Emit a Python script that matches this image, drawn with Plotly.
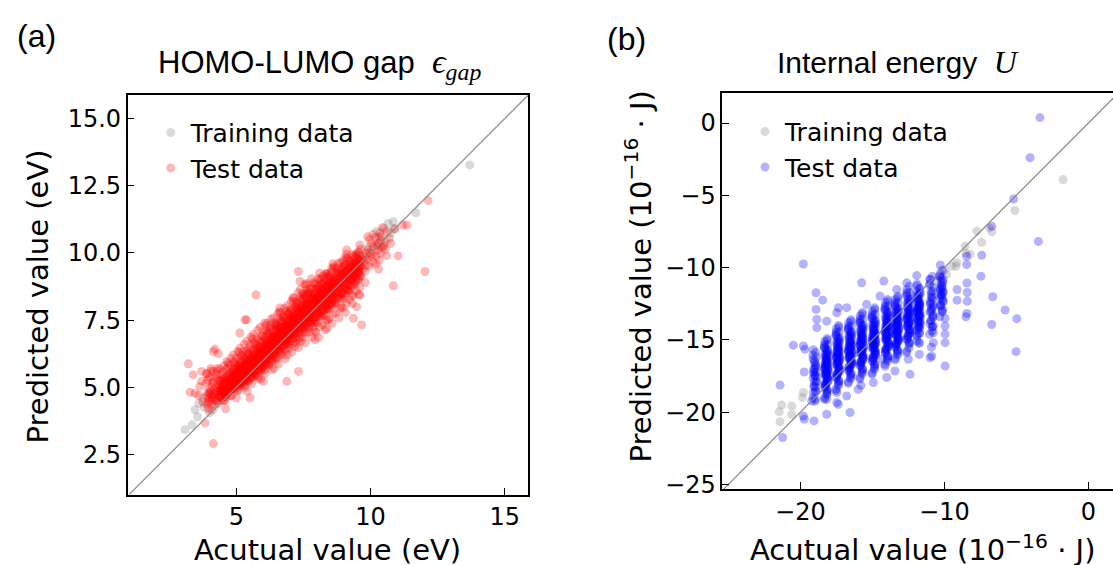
import plotly.graph_objects as go

# ---------------- Panel (a): HOMO-LUMO gap (eV) ----------------
train_a_actual = [
    13.70, 11.69, 10.85, 10.66, 10.50, 10.75, 10.30, 10.55, 10.20, 10.90,
    10.23, 10.47, 3.09, 3.46, 3.60, 3.80, 3.55, 3.35, 4.00, 3.75,
    4.20, 6.50, 7.56, 6.25, 7.62, 9.60, 9.90, 5.00, 8.50, 4.50,
]
train_a_pred = [
    13.28, 11.50, 11.17, 11.10, 10.90, 10.75, 10.60, 10.45, 10.30, 10.90,
    10.80, 10.24, 3.42, 4.16, 4.40, 4.25, 3.90, 3.60, 4.05, 4.60,
    4.30, 7.32, 8.38, 7.32, 8.44, 9.90, 10.20, 5.30, 8.70, 4.80,
]

test_a_actual = [
    3.90, 4.04, 3.96, 4.09, 4.00, 3.93, 4.06, 3.98, 4.11, 3.88,
    4.28, 4.16, 4.32, 4.22, 4.37, 4.19, 4.25, 4.33, 4.14, 4.30,
    4.45, 4.60, 4.38, 4.52, 4.56, 4.49, 4.42, 4.61, 4.54, 4.47,
    4.53, 4.41, 4.57, 4.47, 4.62, 4.44, 4.50, 4.58, 4.39, 4.55,
    4.65, 4.79, 4.71, 4.84, 4.75, 4.68, 4.81, 4.73, 4.86, 4.63,
    4.78, 4.66, 4.82, 4.72, 4.87, 4.69, 4.75, 4.83, 4.64, 4.80,
    4.95, 5.10, 4.88, 5.02, 5.06, 4.99, 4.92, 5.11, 5.04, 4.97,
    4.90, 5.04, 4.96, 5.09, 5.00, 4.93, 5.06, 4.98, 5.11, 4.88,
    5.03, 4.91, 5.07, 4.97, 5.12, 4.94, 5.00, 5.08, 4.89, 5.05,
    5.28, 5.16, 5.32, 5.22, 5.37, 5.19, 5.25, 5.33, 5.14, 5.30,
    5.20, 5.35, 5.13, 5.27, 5.31, 5.24, 5.17, 5.36, 5.29, 5.22,
    5.15, 5.29, 5.21, 5.34, 5.25, 5.18, 5.31, 5.23, 5.36, 5.13,
    5.40, 5.54, 5.46, 5.59, 5.50, 5.43, 5.56, 5.48, 5.61, 5.38,
    5.53, 5.41, 5.57, 5.47, 5.62, 5.44, 5.50, 5.58, 5.39, 5.55,
    5.45, 5.60, 5.38, 5.52, 5.56, 5.49, 5.42, 5.61, 5.54, 5.47,
    5.70, 5.85, 5.63, 5.77, 5.81, 5.74, 5.67, 5.86, 5.79, 5.72,
    5.65, 5.79, 5.71, 5.84, 5.75, 5.68, 5.81, 5.73, 5.86, 5.63,
    5.78, 5.66, 5.82, 5.72, 5.87, 5.69, 5.75, 5.83, 5.64, 5.80,
    6.03, 5.91, 6.07, 5.97, 6.12, 5.94, 6.00, 6.08, 5.89, 6.05,
    5.95, 6.10, 5.88, 6.02, 6.06, 5.99, 5.92, 6.11, 6.04, 5.97,
    5.90, 6.04, 5.96, 6.09, 6.00, 5.93, 6.06, 5.98, 6.11, 5.88,
    6.15, 6.29, 6.21, 6.34, 6.25, 6.18, 6.31, 6.23, 6.36, 6.13,
    6.28, 6.16, 6.32, 6.22, 6.37, 6.19, 6.25, 6.33, 6.14, 6.30,
    6.20, 6.35, 6.13, 6.27, 6.31, 6.24, 6.17, 6.36, 6.29, 6.22,
    6.45, 6.60, 6.38, 6.52, 6.56, 6.49, 6.42, 6.61, 6.54, 6.47,
    6.40, 6.54, 6.46, 6.59, 6.50, 6.43, 6.56, 6.48, 6.61, 6.38,
    6.53, 6.41, 6.57, 6.47, 6.62, 6.44, 6.50, 6.58, 6.39, 6.55,
    6.78, 6.66, 6.82, 6.72, 6.87, 6.69, 6.75, 6.83, 6.64, 6.80,
    6.70, 6.85, 6.63, 6.77, 6.81, 6.74, 6.67, 6.86, 6.79, 6.72,
    6.65, 6.79, 6.71, 6.84, 6.75, 6.68, 6.81, 6.73, 6.86, 6.63,
    6.90, 7.04, 6.96, 7.09, 7.00, 6.93, 7.06, 6.98, 7.11, 6.88,
    7.03, 6.91, 7.07, 6.97, 7.12, 6.94, 7.00, 7.08, 6.89, 7.05,
    6.95, 7.10, 6.88, 7.02, 7.06, 6.99, 6.92, 7.11, 7.04, 6.97,
    7.20, 7.35, 7.13, 7.27, 7.31, 7.24, 7.17, 7.36, 7.29, 7.22,
    7.15, 7.29, 7.21, 7.34, 7.25, 7.18, 7.31, 7.23, 7.36, 7.13,
    7.28, 7.16, 7.32, 7.22, 7.37, 7.19, 7.25, 7.33, 7.14, 7.30,
    7.53, 7.41, 7.57, 7.47, 7.62, 7.44, 7.50, 7.58, 7.39, 7.55,
    7.45, 7.60, 7.38, 7.52, 7.56, 7.49, 7.42, 7.61, 7.54, 7.47,
    7.40, 7.54, 7.46, 7.59, 7.50, 7.43, 7.56, 7.48, 7.61, 7.38,
    7.65, 7.79, 7.71, 7.84, 7.75, 7.68, 7.81, 7.73, 7.86, 7.63,
    7.78, 7.66, 7.82, 7.72, 7.87, 7.69, 7.75, 7.83, 7.64, 7.80,
    7.70, 7.85, 7.63, 7.77, 7.81, 7.74, 7.67, 7.86, 7.79, 7.72,
    7.95, 8.10, 7.88, 8.02, 8.06, 7.99, 7.92, 8.11, 8.04, 7.97,
    7.90, 8.04, 7.96, 8.09, 8.00, 7.93, 8.06, 7.98, 8.11, 7.88,
    8.03, 7.91, 8.07, 7.97, 8.12, 7.94, 8.00, 8.08, 7.89, 8.05,
    8.28, 8.16, 8.32, 8.22, 8.37, 8.19, 8.25, 8.33, 8.14, 8.30,
    8.20, 8.35, 8.13, 8.27, 8.31, 8.24, 8.17, 8.36, 8.29, 8.22,
    8.15, 8.29, 8.21, 8.34, 8.25, 8.18, 8.31, 8.23, 8.36, 8.13,
    8.40, 8.54, 8.46, 8.59, 8.50, 8.43, 8.56, 8.48, 8.61, 8.38,
    8.53, 8.41, 8.57, 8.47, 8.62, 8.44, 8.50, 8.58, 8.39, 8.55,
    8.45, 8.60, 8.38, 8.52, 8.56, 8.49, 8.42, 8.61, 8.54, 8.47,
    8.70, 8.85, 8.63, 8.77, 8.81, 8.74, 8.67, 8.86, 8.79, 8.72,
    8.65, 8.79, 8.71, 8.84, 8.75, 8.68, 8.81, 8.73, 8.86, 8.63,
    9.03, 8.91, 9.07, 8.97, 9.12, 8.94, 9.00, 9.08, 8.89, 9.05,
    8.95, 9.10, 8.88, 9.02, 9.06, 8.99, 8.92, 9.11, 9.04, 8.97,
    9.15, 9.29, 9.21, 9.34, 9.25, 9.18, 9.31, 9.23, 9.36, 9.13,
    9.20, 9.35, 9.13, 9.27, 9.31, 9.24, 9.17, 9.36, 9.29, 9.22,
    9.53, 9.41, 9.57, 9.47, 9.62, 9.44, 9.50, 9.58, 9.39, 9.55,
    9.45, 9.60, 9.38, 9.52, 9.56, 9.49, 9.42, 9.61, 9.54, 9.47,
    9.65, 9.79, 9.71, 9.84, 9.75, 9.68, 9.81, 9.73, 9.86, 9.63,
    9.95, 10.10, 9.88, 10.02, 10.06, 9.99, 9.92, 10.11, 10.04, 9.97,
    10.33, 10.21, 10.37, 10.27, 10.42, 10.24, 10.30, 10.38, 10.19, 10.35,
    3.21, 3.39, 3.71, 3.46, 3.27, 3.64, 3.71, 3.83, 4.14, 4.20,
    4.33, 4.14, 5.32, 5.38, 5.73, 5.13, 6.62, 7.31, 7.37, 9.11,
    11.03, 10.85, 9.48, 9.36, 9.67, 9.60, 8.37, 7.93, 7.18, 7.31,
    6.88, 6.00, 5.51, 12.15, 11.20, 11.35, 12.03, 10.40, 10.60, 10.50,
    10.70, 10.20, 10.60, 10.30, 10.90, 10.45, 10.10, 3.90, 4.05, 3.95,
    3.75, 4.10, 3.60, 4.60, 5.00, 5.40, 5.90, 6.40, 6.90, 7.40,
    7.90, 8.40, 8.90, 9.30, 9.80, 4.30, 4.70, 5.10, 5.60, 6.10,
    6.60, 7.10, 7.60, 8.10, 8.60, 9.10, 9.60, 9.90, 10.55, 10.75,
    4.07, 3.96, 4.10, 3.91, 4.02, 4.12, 3.94, 4.00, 3.89, 4.05,
    4.32, 4.21, 4.35, 4.16, 4.27, 4.37, 4.19, 4.25, 4.14, 4.30,
    4.57, 4.46, 4.60, 4.41, 4.52, 4.62, 4.44, 4.50, 4.39, 4.55,
    4.44, 4.59, 4.49, 4.56, 4.40, 4.53, 4.61, 4.43, 4.58, 4.47,
    4.82, 4.71, 4.85, 4.66, 4.77, 4.87, 4.69, 4.75, 4.64, 4.80,
    4.69, 4.84, 4.74, 4.81, 4.65, 4.78, 4.86, 4.68, 4.83, 4.72,
    5.07, 4.96, 5.10, 4.91, 5.02, 5.12, 4.94, 5.00, 4.89, 5.05,
    4.94, 5.09, 4.99, 5.06, 4.90, 5.03, 5.11, 4.93, 5.08, 4.97,
    5.32, 5.21, 5.35, 5.16, 5.27, 5.37, 5.19, 5.25, 5.14, 5.30,
    5.19, 5.34, 5.24, 5.31, 5.15, 5.28, 5.36, 5.18, 5.33, 5.22,
    5.57, 5.46, 5.60, 5.41, 5.52, 5.62, 5.44, 5.50, 5.39, 5.55,
    5.44, 5.59, 5.49, 5.56, 5.40, 5.53, 5.61, 5.43, 5.58, 5.47,
    5.82, 5.71, 5.85, 5.66, 5.77, 5.87, 5.69, 5.75, 5.64, 5.80,
    5.69, 5.84, 5.74, 5.81, 5.65, 5.78, 5.86, 5.68, 5.83, 5.72,
    6.07, 5.96, 6.10, 5.91, 6.02, 6.12, 5.94, 6.00, 5.89, 6.05,
    5.94, 6.09, 5.99, 6.06, 5.90, 6.03, 6.11, 5.93, 6.08, 5.97,
    6.32, 6.21, 6.35, 6.16, 6.27, 6.37, 6.19, 6.25, 6.14, 6.30,
    6.19, 6.34, 6.24, 6.31, 6.15, 6.28, 6.36, 6.18, 6.33, 6.22,
    6.57, 6.46, 6.60, 6.41, 6.52, 6.62, 6.44, 6.50, 6.39, 6.55,
    6.44, 6.59, 6.49, 6.56, 6.40, 6.53, 6.61, 6.43, 6.58, 6.47,
    6.82, 6.71, 6.85, 6.66, 6.77, 6.87, 6.69, 6.75, 6.64, 6.80,
    6.69, 6.84, 6.74, 6.81, 6.65, 6.78, 6.86, 6.68, 6.83, 6.72,
    7.07, 6.96, 7.10, 6.91, 7.02, 7.12, 6.94, 7.00, 6.89, 7.05,
    6.94, 7.09, 6.99, 7.06, 6.90, 7.03, 7.11, 6.93, 7.08, 6.97,
    7.32, 7.21, 7.35, 7.16, 7.27, 7.37, 7.19, 7.25, 7.14, 7.30,
    7.19, 7.34, 7.24, 7.31, 7.15, 7.28, 7.36, 7.18, 7.33, 7.22,
    7.57, 7.46, 7.60, 7.41, 7.52, 7.62, 7.44, 7.50, 7.39, 7.55,
    7.44, 7.59, 7.49, 7.56, 7.40, 7.53, 7.61, 7.43, 7.58, 7.47,
    7.82, 7.71, 7.85, 7.66, 7.77, 7.87, 7.69, 7.75, 7.64, 7.80,
    7.69, 7.84, 7.74, 7.81, 7.65, 7.78, 7.86, 7.68, 7.83, 7.72,
    8.07, 7.96, 8.10, 7.91, 8.02, 8.12, 7.94, 8.00, 7.89, 8.05,
    7.94, 8.09, 7.99, 8.06, 7.90, 8.03, 8.11, 7.93, 8.08, 7.97,
    8.32, 8.21, 8.35, 8.16, 8.27, 8.37, 8.19, 8.25, 8.14, 8.30,
    8.19, 8.34, 8.24, 8.31, 8.15, 8.28, 8.36, 8.18, 8.33, 8.22,
    8.57, 8.46, 8.60, 8.41, 8.52, 8.62, 8.44, 8.50, 8.39, 8.55,
    8.44, 8.59, 8.49, 8.56, 8.40, 8.53, 8.61, 8.43, 8.58, 8.47,
    8.82, 8.71, 8.85, 8.66, 8.77, 8.87, 8.69, 8.75, 8.64, 8.80,
    8.69, 8.84, 8.74, 8.81, 8.65, 8.78, 8.86, 8.68, 8.83, 8.72,
    9.07, 8.96, 9.10, 8.91, 9.02, 9.12, 8.94, 9.00, 8.89, 9.05,
    8.94, 9.09, 8.99, 9.06, 8.90, 9.03, 9.11, 8.93, 9.08, 8.97,
    9.32, 9.21, 9.35, 9.16, 9.27, 9.37, 9.19, 9.25, 9.14, 9.30,
    9.19, 9.34, 9.24, 9.31, 9.15, 9.28, 9.36, 9.18, 9.33, 9.22,
    9.57, 9.46, 9.60, 9.41, 9.52, 9.62, 9.44, 9.50, 9.39, 9.55,
    9.44, 9.59, 9.49, 9.56, 9.40, 9.53, 9.61, 9.43, 9.58, 9.47,
]
test_a_pred = [
    4.37, 4.50, 4.59, 4.67, 4.74, 4.80, 4.87, 4.95, 5.04, 5.17,
    4.49, 4.60, 4.69, 4.78, 4.85, 4.90, 4.99, 5.08, 5.19, 5.30,
    4.50, 4.63, 4.72, 4.81, 4.93, 5.00, 5.06, 5.11, 5.20, 5.31,
    4.52, 4.66, 4.75, 4.84, 4.90, 4.97, 5.04, 5.13, 5.22, 5.36,
    4.80, 4.92, 5.01, 5.11, 5.18, 5.24, 5.32, 5.42, 5.54, 5.66,
    4.70, 4.84, 4.94, 5.04, 5.16, 5.23, 5.30, 5.35, 5.44, 5.56,
    4.93, 5.08, 5.18, 5.28, 5.35, 5.43, 5.50, 5.60, 5.70, 5.85,
    5.00, 5.13, 5.23, 5.33, 5.40, 5.46, 5.55, 5.65, 5.78, 5.90,
    4.90, 5.05, 5.15, 5.25, 5.38, 5.45, 5.53, 5.58, 5.68, 5.80,
    5.08, 5.24, 5.35, 5.46, 5.55, 5.63, 5.71, 5.82, 5.93, 6.10,
    5.16, 5.30, 5.41, 5.52, 5.60, 5.67, 5.77, 5.88, 6.01, 6.15,
    5.05, 5.22, 5.33, 5.44, 5.57, 5.66, 5.74, 5.79, 5.90, 6.04,
    5.23, 5.41, 5.53, 5.65, 5.74, 5.83, 5.92, 6.04, 6.16, 6.34,
    5.32, 5.47, 5.59, 5.71, 5.80, 5.87, 5.98, 6.10, 6.25, 6.40,
    5.20, 5.38, 5.50, 5.62, 5.77, 5.86, 5.95, 6.01, 6.13, 6.28,
    5.44, 5.63, 5.75, 5.88, 5.97, 6.06, 6.16, 6.28, 6.40, 6.59,
    5.53, 5.69, 5.81, 5.94, 6.03, 6.10, 6.22, 6.34, 6.50, 6.65,
    5.41, 5.60, 5.72, 5.84, 6.00, 6.09, 6.19, 6.25, 6.37, 6.53,
    5.63, 5.83, 5.96, 6.09, 6.19, 6.28, 6.38, 6.51, 6.64, 6.84,
    5.73, 5.89, 6.02, 6.15, 6.25, 6.33, 6.45, 6.58, 6.74, 6.90,
    5.60, 5.80, 5.93, 6.06, 6.22, 6.32, 6.41, 6.48, 6.61, 6.77,
    5.88, 6.08, 6.21, 6.34, 6.44, 6.53, 6.63, 6.76, 6.89, 7.09,
    5.98, 6.14, 6.27, 6.40, 6.50, 6.58, 6.70, 6.83, 6.99, 7.15,
    5.85, 6.05, 6.18, 6.31, 6.47, 6.57, 6.66, 6.73, 6.86, 7.02,
    6.13, 6.33, 6.46, 6.59, 6.69, 6.78, 6.88, 7.01, 7.14, 7.34,
    6.23, 6.39, 6.52, 6.65, 6.75, 6.83, 6.95, 7.08, 7.24, 7.40,
    6.10, 6.30, 6.43, 6.56, 6.72, 6.82, 6.91, 6.98, 7.11, 7.27,
    6.38, 6.58, 6.71, 6.84, 6.94, 7.03, 7.13, 7.26, 7.39, 7.59,
    6.48, 6.64, 6.77, 6.90, 7.00, 7.08, 7.20, 7.33, 7.49, 7.65,
    6.35, 6.55, 6.68, 6.81, 6.97, 7.07, 7.16, 7.23, 7.36, 7.52,
    6.63, 6.83, 6.96, 7.09, 7.19, 7.28, 7.38, 7.51, 7.64, 7.84,
    6.73, 6.89, 7.02, 7.15, 7.25, 7.33, 7.45, 7.58, 7.74, 7.90,
    6.60, 6.80, 6.93, 7.06, 7.22, 7.32, 7.41, 7.48, 7.61, 7.77,
    6.84, 7.05, 7.19, 7.33, 7.43, 7.54, 7.64, 7.78, 7.92, 8.13,
    6.94, 7.12, 7.26, 7.40, 7.50, 7.58, 7.71, 7.85, 8.03, 8.20,
    6.80, 7.01, 7.15, 7.29, 7.47, 7.57, 7.68, 7.75, 7.89, 8.06,
    7.04, 7.26, 7.41, 7.56, 7.68, 7.79, 7.90, 8.05, 8.20, 8.43,
    7.15, 7.34, 7.49, 7.64, 7.75, 7.84, 7.98, 8.13, 8.31, 8.50,
    7.00, 7.23, 7.38, 7.53, 7.71, 7.83, 7.94, 8.01, 8.16, 8.35,
    7.24, 7.46, 7.61, 7.76, 7.88, 7.99, 8.10, 8.25, 8.40, 8.63,
    7.35, 7.54, 7.69, 7.84, 7.95, 8.04, 8.18, 8.33, 8.51, 8.70,
    7.20, 7.43, 7.58, 7.73, 7.91, 8.03, 8.14, 8.21, 8.36, 8.55,
    7.44, 7.66, 7.81, 7.96, 8.08, 8.19, 8.30, 8.45, 8.60, 8.83,
    7.55, 7.74, 7.89, 8.04, 8.15, 8.24, 8.38, 8.53, 8.71, 8.90,
    7.40, 7.63, 7.78, 7.93, 8.11, 8.23, 8.34, 8.41, 8.56, 8.75,
    7.67, 7.89, 8.04, 8.19, 8.31, 8.42, 8.53, 8.68, 8.83, 9.06,
    7.78, 7.97, 8.12, 8.27, 8.38, 8.47, 8.61, 8.76, 8.94, 9.13,
    7.63, 7.86, 8.01, 8.16, 8.34, 8.46, 8.57, 8.64, 8.79, 8.98,
    7.94, 8.15, 8.29, 8.43, 8.53, 8.64, 8.74, 8.88, 9.02, 9.23,
    8.04, 8.22, 8.36, 8.50, 8.60, 8.68, 8.81, 8.95, 9.13, 9.30,
    7.90, 8.11, 8.25, 8.39, 8.57, 8.67, 8.78, 8.85, 8.99, 9.16,
    8.14, 8.35, 8.49, 8.63, 8.73, 8.84, 8.94, 9.08, 9.22, 9.43,
    8.24, 8.42, 8.56, 8.70, 8.80, 8.88, 9.01, 9.15, 9.33, 9.50,
    8.30, 8.51, 8.65, 8.79, 8.97, 9.07, 9.18, 9.25, 9.39, 9.56,
    8.44, 8.62, 8.76, 8.90, 9.00, 9.08, 9.21, 9.35, 9.53, 9.70,
    8.63, 8.82, 8.95, 9.07, 9.17, 9.26, 9.36, 9.48, 9.61, 9.80,
    8.60, 8.79, 8.92, 9.04, 9.20, 9.29, 9.39, 9.45, 9.58, 9.73,
    9.01, 9.15, 9.26, 9.37, 9.45, 9.52, 9.62, 9.73, 9.86, 10.00,
    8.93, 9.09, 9.20, 9.31, 9.40, 9.48, 9.56, 9.67, 9.78, 9.95,
    9.15, 9.32, 9.43, 9.54, 9.67, 9.76, 9.84, 9.89, 10.00, 10.14,
    9.51, 9.65, 9.76, 9.87, 9.95, 10.02, 10.12, 10.23, 10.36, 10.50,
    9.73, 9.89, 10.00, 10.11, 10.20, 10.28, 10.36, 10.47, 10.58, 10.75,
    5.87, 5.46, 5.59, 4.78, 4.81, 5.03, 5.22, 3.67, 2.90, 6.42,
    6.25, 6.33, 7.51, 7.51, 8.44, 7.02, 7.95, 9.31, 8.94, 10.11,
    9.89, 8.78, 8.00, 7.57, 7.32, 8.44, 7.20, 6.77, 6.52, 5.59,
    5.22, 5.22, 4.60, 11.95, 11.04, 11.04, 9.31, 10.60, 10.80, 10.30,
    10.55, 9.60, 9.90, 9.40, 10.90, 10.95, 10.70, 5.50, 5.70, 4.20,
    4.45, 4.15, 4.70, 4.20, 4.60, 4.85, 5.30, 5.70, 6.20, 6.70,
    7.10, 7.50, 8.00, 8.40, 8.90, 5.60, 5.90, 6.30, 6.80, 7.30,
    7.80, 8.30, 8.80, 9.25, 9.60, 9.95, 10.30, 10.60, 10.15, 10.35,
    4.36, 4.46, 4.57, 4.68, 4.79, 5.17, 5.28, 5.39, 5.50, 5.60,
    4.40, 4.51, 4.62, 4.73, 4.85, 5.25, 5.37, 5.48, 5.59, 5.70,
    4.50, 4.61, 4.72, 4.83, 4.95, 5.35, 5.47, 5.58, 5.69, 5.80,
    4.63, 4.72, 4.79, 4.86, 4.91, 4.97, 5.02, 5.09, 5.17, 5.27,
    4.68, 4.80, 4.92, 5.04, 5.16, 5.60, 5.72, 5.84, 5.96, 6.08,
    4.84, 4.94, 5.01, 5.08, 5.14, 5.20, 5.26, 5.32, 5.41, 5.52,
    4.87, 5.00, 5.12, 5.25, 5.37, 5.83, 5.95, 6.08, 6.20, 6.33,
    5.05, 5.15, 5.22, 5.30, 5.36, 5.42, 5.48, 5.55, 5.64, 5.75,
    5.00, 5.14, 5.28, 5.41, 5.55, 6.05, 6.19, 6.32, 6.46, 6.60,
    5.21, 5.32, 5.41, 5.49, 5.56, 5.62, 5.69, 5.77, 5.86, 5.99,
    5.13, 5.28, 5.43, 5.58, 5.73, 6.27, 6.42, 6.57, 6.72, 6.87,
    5.38, 5.50, 5.59, 5.68, 5.75, 5.82, 5.90, 5.98, 6.09, 6.22,
    5.33, 5.49, 5.64, 5.80, 5.95, 6.51, 6.66, 6.82, 6.97, 7.13,
    5.60, 5.72, 5.81, 5.91, 5.98, 6.05, 6.13, 6.22, 6.33, 6.46,
    5.51, 5.67, 5.83, 5.99, 6.16, 6.74, 6.91, 7.07, 7.23, 7.39,
    5.79, 5.92, 6.02, 6.12, 6.20, 6.28, 6.35, 6.45, 6.56, 6.71,
    5.66, 5.82, 5.98, 6.14, 6.31, 6.89, 7.06, 7.22, 7.38, 7.54,
    6.04, 6.17, 6.27, 6.37, 6.45, 6.53, 6.60, 6.70, 6.81, 6.96,
    5.86, 6.02, 6.18, 6.34, 6.51, 7.09, 7.26, 7.42, 7.58, 7.74,
    6.29, 6.42, 6.52, 6.62, 6.70, 6.78, 6.85, 6.95, 7.06, 7.21,
    6.06, 6.22, 6.38, 6.54, 6.71, 7.29, 7.46, 7.62, 7.78, 7.94,
    6.54, 6.67, 6.77, 6.87, 6.95, 7.03, 7.10, 7.20, 7.31, 7.46,
    6.31, 6.47, 6.63, 6.79, 6.96, 7.54, 7.71, 7.87, 8.03, 8.19,
    6.79, 6.92, 7.02, 7.12, 7.20, 7.28, 7.35, 7.45, 7.56, 7.71,
    6.48, 6.66, 6.83, 7.01, 7.18, 7.82, 7.99, 8.17, 8.34, 8.52,
    7.01, 7.15, 7.25, 7.36, 7.44, 7.53, 7.61, 7.71, 7.84, 7.99,
    6.66, 6.85, 7.04, 7.22, 7.41, 8.09, 8.28, 8.46, 8.65, 8.84,
    7.22, 7.37, 7.49, 7.60, 7.69, 7.78, 7.87, 7.98, 8.11, 8.28,
    6.86, 7.05, 7.24, 7.42, 7.61, 8.29, 8.48, 8.66, 8.85, 9.04,
    7.42, 7.57, 7.69, 7.80, 7.89, 7.98, 8.07, 8.18, 8.31, 8.48,
    6.86, 7.05, 7.24, 7.42, 7.61, 8.29, 8.48, 8.66, 8.85, 9.04,
    7.62, 7.77, 7.89, 8.00, 8.09, 8.18, 8.27, 8.38, 8.51, 8.68,
    7.14, 7.32, 7.50, 7.68, 7.86, 8.50, 8.68, 8.86, 9.04, 9.22,
    7.88, 8.02, 8.13, 8.24, 8.32, 8.41, 8.50, 8.60, 8.73, 8.88,
    7.38, 7.56, 7.73, 7.91, 8.08, 8.72, 8.89, 9.07, 9.24, 9.42,
    8.11, 8.25, 8.35, 8.46, 8.54, 8.63, 8.71, 8.81, 8.94, 9.09,
    7.58, 7.76, 7.93, 8.11, 8.28, 8.92, 9.09, 9.27, 9.44, 9.62,
    8.31, 8.45, 8.55, 8.66, 8.74, 8.83, 8.91, 9.01, 9.14, 9.29,
    7.78, 7.96, 8.13, 8.31, 8.48, 9.12, 9.29, 9.47, 9.64, 9.82,
    8.51, 8.65, 8.75, 8.86, 8.94, 9.03, 9.11, 9.21, 9.34, 9.49,
    8.12, 8.27, 8.43, 8.59, 8.75, 9.31, 9.47, 9.63, 9.79, 9.94,
    8.79, 8.91, 9.01, 9.10, 9.18, 9.26, 9.33, 9.42, 9.53, 9.67,
    8.45, 8.59, 8.73, 8.86, 9.00, 9.50, 9.64, 9.77, 9.91, 10.05,
    9.06, 9.17, 9.26, 9.34, 9.41, 9.47, 9.54, 9.62, 9.71, 9.84,
]

# ---------------- Panel (b): Internal energy U (1e-16 J) ----------------
train_b_actual = [
    -1.76, -5.10, -6.70, -6.88, -7.41, -8.57, -8.22, -9.14, -9.19, -9.84,
    -10.49, -8.50, -7.75, -21.47, -21.41, -20.60, -20.60, -19.85, -19.79, -21.30,
    -10.00, -9.50,
]
train_b_pred = [
    -3.91, -6.04, -7.52, -7.25, -8.24, -8.52, -9.09, -9.66, -9.90, -10.47,
    -10.93, -9.00, -7.48, -19.96, -20.66, -19.57, -20.17, -18.99, -18.64, -19.50,
    -10.20, -9.90,
]

test_b_actual = [
    -19.12, -18.95, -19.04, -18.90, -19.00, -19.08, -18.93, -19.02, -18.88, -19.10,
    -18.96, -19.10, -18.92, -19.03, -18.87, -19.06, -19.00, -18.91, -19.12, -18.94,
    -18.32, -18.15, -18.24, -18.10, -18.20, -18.28, -18.13, -18.22, -18.08, -18.30,
    -18.16, -18.30, -18.12, -18.23, -18.07, -18.26, -18.20, -18.11, -18.32, -18.14,
    -18.32, -18.15, -18.24, -18.10, -18.20, -18.28, -18.13, -18.22, -18.08, -18.30,
    -18.16, -18.30, -18.12, -18.23, -18.07, -18.26, -18.20, -18.11, -18.32, -18.14,
    -17.52, -17.35, -17.44, -17.30, -17.40, -17.48, -17.33, -17.42, -17.28, -17.50,
    -17.36, -17.50, -17.32, -17.43, -17.27, -17.46, -17.40, -17.31, -17.52, -17.34,
    -17.52, -17.35, -17.44, -17.30, -17.40, -17.48, -17.33, -17.42, -17.28, -17.50,
    -17.36, -17.50, -17.32, -17.43, -17.27, -17.46, -17.40, -17.31, -17.52, -17.34,
    -16.67, -16.50, -16.59, -16.45, -16.55, -16.63, -16.48, -16.57, -16.43, -16.65,
    -16.51, -16.65, -16.47, -16.58, -16.42, -16.61, -16.55, -16.46, -16.67, -16.49,
    -16.67, -16.50, -16.59, -16.45, -16.55, -16.63, -16.48, -16.57, -16.43, -16.65,
    -16.51, -16.65, -16.47, -16.58, -16.42, -16.61, -16.55, -16.46, -16.67, -16.49,
    -15.87, -15.70, -15.79, -15.65, -15.75, -15.83, -15.68, -15.77, -15.63, -15.85,
    -15.71, -15.85, -15.67, -15.78, -15.62, -15.81, -15.75, -15.66, -15.87, -15.69,
    -15.87, -15.70, -15.79, -15.65, -15.75, -15.83, -15.68, -15.77, -15.63, -15.85,
    -15.71, -15.85, -15.67, -15.78, -15.62, -15.81, -15.75, -15.66, -15.87, -15.69,
    -15.02, -14.85, -14.94, -14.80, -14.90, -14.98, -14.83, -14.92, -14.78, -15.00,
    -14.86, -15.00, -14.82, -14.93, -14.77, -14.96, -14.90, -14.81, -15.02, -14.84,
    -15.02, -14.85, -14.94, -14.80, -14.90, -14.98, -14.83, -14.92, -14.78, -15.00,
    -14.86, -15.00, -14.82, -14.93, -14.77, -14.96, -14.90, -14.81, -15.02, -14.84,
    -14.12, -13.95, -14.04, -13.90, -14.00, -14.08, -13.93, -14.02, -13.88, -14.10,
    -13.96, -14.10, -13.92, -14.03, -13.87, -14.06, -14.00, -13.91, -14.12, -13.94,
    -14.12, -13.95, -14.04, -13.90, -14.00, -14.08, -13.93, -14.02, -13.88, -14.10,
    -13.96, -14.10, -13.92, -14.03, -13.87, -14.06, -14.00, -13.91, -14.12, -13.94,
    -13.42, -13.25, -13.34, -13.20, -13.30, -13.38, -13.23, -13.32, -13.18, -13.40,
    -13.26, -13.40, -13.22, -13.33, -13.17, -13.36, -13.30, -13.21, -13.42, -13.24,
    -13.42, -13.25, -13.34, -13.20, -13.30, -13.38, -13.23, -13.32, -13.18, -13.40,
    -13.26, -13.40, -13.22, -13.33, -13.17, -13.36, -13.30, -13.21, -13.42, -13.24,
    -12.62, -12.45, -12.54, -12.40, -12.50, -12.58, -12.43, -12.52, -12.38, -12.60,
    -12.46, -12.60, -12.42, -12.53, -12.37, -12.56, -12.50, -12.41, -12.62, -12.44,
    -12.62, -12.45, -12.54, -12.40, -12.50, -12.58, -12.43, -12.52, -12.38, -12.60,
    -11.92, -11.75, -11.84, -11.70, -11.80, -11.88, -11.73, -11.82, -11.68, -11.90,
    -11.76, -11.90, -11.72, -11.83, -11.67, -11.86, -11.80, -11.71, -11.92, -11.74,
    -11.92, -11.75, -11.84, -11.70, -11.80, -11.88, -11.73, -11.82, -11.68, -11.90,
    -11.02, -10.85, -10.94, -10.80, -10.90, -10.98, -10.83, -10.92, -10.78, -11.00,
    -10.86, -11.00, -10.82, -10.93, -10.77, -10.96, -10.90, -10.81, -11.02, -10.84,
    -10.32, -10.15, -10.24, -10.10, -10.20, -10.28, -10.13, -10.22, -10.08, -10.30,
    -10.16, -10.30, -10.12, -10.23, -10.07, -10.26, -10.20, -10.11, -10.32, -10.14,
    -3.36, -4.05, -5.19, -3.47, -6.71, -7.41, -8.45, -8.45, -7.46, -8.43,
    -9.12, -9.12, -8.41, -8.41, -8.43, -6.64, -5.78, -4.97, -6.71, -5.02,
    -9.95, -9.95, -9.95, -10.77, -10.77, -10.88, -11.74, -12.38, -12.50, -13.43,
    -14.35, -15.79, -16.55, -17.47, -18.17, -18.98, -19.73, -21.23, -21.41, -20.49,
    -19.79, -19.73, -19.79, -18.91, -18.45, -18.91, -18.86, -18.86, -17.36, -16.78,
    -15.74, -14.21, -11.92, -12.61, -10.28, -10.20, -10.99, -11.74, -10.99, -10.77,
    -9.95, -9.95, -8.50, -17.36, -18.17, -17.47, -16.78, -15.98, -14.93, -14.00,
    -19.21, -19.79, -17.47, -18.17, -15.40, -14.47, -13.31, -19.68, -10.90, -19.05,
    -18.92, -19.05, -18.87, -19.11, -18.98, -18.90, -19.08, -18.95, -19.02, -19.13,
    -18.12, -18.25, -18.07, -18.31, -18.18, -18.10, -18.28, -18.15, -18.22, -18.33,
    -18.29, -18.08, -18.23, -18.13, -18.33, -18.16, -18.09, -18.26, -18.19, -18.11,
    -17.32, -17.45, -17.27, -17.51, -17.38, -17.30, -17.48, -17.35, -17.42, -17.53,
    -17.49, -17.28, -17.43, -17.33, -17.53, -17.36, -17.29, -17.46, -17.39, -17.31,
    -16.47, -16.60, -16.42, -16.66, -16.53, -16.45, -16.63, -16.50, -16.57, -16.68,
    -16.64, -16.43, -16.58, -16.48, -16.68, -16.51, -16.44, -16.61, -16.54, -16.46,
    -15.67, -15.80, -15.62, -15.86, -15.73, -15.65, -15.83, -15.70, -15.77, -15.88,
    -15.84, -15.63, -15.78, -15.68, -15.88, -15.71, -15.64, -15.81, -15.74, -15.66,
    -14.82, -14.95, -14.77, -15.01, -14.88, -14.80, -14.98, -14.85, -14.92, -15.03,
    -14.99, -14.78, -14.93, -14.83, -15.03, -14.86, -14.79, -14.96, -14.89, -14.81,
    -13.92, -14.05, -13.87, -14.11, -13.98, -13.90, -14.08, -13.95, -14.02, -14.13,
    -14.09, -13.88, -14.03, -13.93, -14.13, -13.96, -13.89, -14.06, -13.99, -13.91,
    -13.22, -13.35, -13.17, -13.41, -13.28, -13.20, -13.38, -13.25, -13.32, -13.43,
    -13.39, -13.18, -13.33, -13.23, -13.43, -13.26, -13.19, -13.36, -13.29, -13.21,
    -12.42, -12.55, -12.37, -12.61, -12.48, -12.40, -12.58, -12.45, -12.52, -12.63,
    -12.59, -12.38, -12.53, -12.43, -12.63, -12.46, -12.39, -12.56, -12.49, -12.41,
    -11.72, -11.85, -11.67, -11.91, -11.78, -11.70, -11.88, -11.75, -11.82, -11.93,
    -11.89, -11.68, -11.83, -11.73, -11.93, -11.76, -11.69, -11.86, -11.79, -11.71,
    -10.82, -10.95, -10.77, -11.01, -10.88, -10.80, -10.98, -10.85, -10.92, -11.03,
    -10.12, -10.25, -10.07, -10.31, -10.18, -10.10, -10.28, -10.15, -10.22, -10.33,
    -18.20, -18.14, -18.27, -18.08, -18.32, -18.17, -18.24, -18.11, -18.29, -18.19,
    -17.40, -17.34, -17.47, -17.28, -17.52, -17.37, -17.44, -17.31, -17.49, -17.39,
    -16.55, -16.49, -16.62, -16.43, -16.67, -16.52, -16.59, -16.46, -16.64, -16.54,
    -15.75, -15.69, -15.82, -15.63, -15.87, -15.72, -15.79, -15.66, -15.84, -15.74,
    -14.90, -14.84, -14.97, -14.78, -15.02, -14.87, -14.94, -14.81, -14.99, -14.89,
    -14.00, -13.94, -14.07, -13.88, -14.12, -13.97, -14.04, -13.91, -14.09, -13.99,
    -13.30, -13.24, -13.37, -13.18, -13.42, -13.27, -13.34, -13.21, -13.39, -13.29,
    -12.50, -12.44, -12.57, -12.38, -12.62, -12.47, -12.54, -12.41, -12.59, -12.49,
    -11.80, -11.74, -11.87, -11.68, -11.92, -11.77, -11.84, -11.71, -11.89, -11.79,
]
test_b_pred = [
    -19.01, -18.56, -18.20, -17.84, -17.52, -17.21, -16.90, -16.58, -16.18, -15.68,
    -19.10, -18.65, -18.29, -17.93, -17.57, -17.30, -17.03, -16.72, -16.31, -15.86,
    -19.00, -18.47, -18.05, -17.63, -17.25, -16.90, -16.54, -16.16, -15.70, -15.11,
    -18.79, -18.26, -17.84, -17.42, -17.11, -16.79, -16.37, -15.95, -15.43, -14.90,
    -19.10, -18.58, -18.16, -17.74, -17.32, -17.00, -16.69, -16.33, -15.85, -15.32,
    -18.68, -18.05, -17.53, -17.21, -16.96, -16.71, -16.45, -16.06, -15.57, -15.01,
    -18.39, -17.83, -17.38, -16.93, -16.52, -16.14, -15.76, -15.35, -14.86, -14.23,
    -18.16, -17.60, -17.15, -16.70, -16.36, -16.03, -15.58, -15.13, -14.56, -14.00,
    -18.50, -17.94, -17.49, -17.04, -16.59, -16.25, -15.91, -15.53, -15.01, -14.45,
    -18.05, -17.38, -16.81, -16.48, -16.21, -15.94, -15.67, -15.24, -14.72, -14.11,
    -17.89, -17.34, -16.90, -16.46, -16.06, -15.69, -15.32, -14.92, -14.44, -13.82,
    -17.67, -17.12, -16.68, -16.24, -15.91, -15.58, -15.14, -14.70, -14.15, -13.60,
    -18.00, -17.45, -17.01, -16.57, -16.13, -15.80, -15.47, -15.10, -14.59, -14.04,
    -17.56, -16.90, -16.35, -16.02, -15.76, -15.49, -15.23, -14.81, -14.30, -13.71,
    -17.59, -17.01, -16.55, -16.09, -15.68, -15.29, -14.89, -14.48, -13.97, -13.33,
    -17.36, -16.78, -16.32, -15.86, -15.52, -15.17, -14.71, -14.25, -13.68, -13.10,
    -17.70, -17.13, -16.67, -16.21, -15.75, -15.40, -15.06, -14.66, -14.14, -13.56,
    -17.24, -16.55, -15.98, -15.63, -15.35, -15.08, -14.80, -14.37, -13.84, -13.22,
    -17.27, -16.69, -16.23, -15.77, -15.36, -14.97, -14.57, -14.16, -13.65, -13.01,
    -17.04, -16.46, -16.00, -15.54, -15.20, -14.85, -14.39, -13.93, -13.36, -12.78,
    -17.38, -16.81, -16.35, -15.89, -15.43, -15.08, -14.74, -14.34, -13.82, -13.24,
    -16.92, -16.23, -15.66, -15.31, -15.03, -14.76, -14.48, -14.05, -13.52, -12.90,
    -16.69, -16.11, -15.65, -15.19, -14.78, -14.39, -13.99, -13.58, -13.07, -12.43,
    -16.46, -15.88, -15.42, -14.96, -14.62, -14.27, -13.81, -13.35, -12.78, -12.20,
    -16.80, -16.23, -15.77, -15.31, -14.85, -14.50, -14.16, -13.76, -13.24, -12.66,
    -16.34, -15.65, -15.08, -14.73, -14.45, -14.18, -13.90, -13.47, -12.94, -12.32,
    -16.27, -15.72, -15.28, -14.84, -14.44, -14.07, -13.70, -13.30, -12.82, -12.20,
    -16.05, -15.50, -15.06, -14.62, -14.29, -13.96, -13.52, -13.08, -12.53, -11.98,
    -16.38, -15.83, -15.39, -14.95, -14.51, -14.18, -13.85, -13.48, -12.97, -12.42,
    -15.94, -15.28, -14.73, -14.40, -14.14, -13.87, -13.61, -13.19, -12.68, -12.09,
    -15.77, -15.19, -14.73, -14.27, -13.86, -13.47, -13.07, -12.66, -12.15, -11.51,
    -15.54, -14.96, -14.50, -14.04, -13.70, -13.35, -12.89, -12.43, -11.86, -11.28,
    -15.88, -15.31, -14.85, -14.39, -13.93, -13.58, -13.24, -12.84, -12.32, -11.74,
    -15.06, -14.54, -14.13, -13.72, -13.35, -13.00, -12.65, -12.28, -11.82, -11.25,
    -15.16, -14.65, -14.23, -13.82, -13.41, -13.10, -12.79, -12.44, -11.97, -11.45,
    -14.75, -14.13, -13.62, -13.31, -13.06, -12.81, -12.56, -12.17, -11.70, -11.14,
    -14.61, -14.09, -13.68, -13.27, -12.90, -12.55, -12.20, -11.83, -11.37, -10.80,
    -14.39, -13.88, -13.47, -13.06, -12.75, -12.45, -12.04, -11.63, -11.11, -10.60,
    -13.40, -12.99, -12.66, -12.33, -12.00, -11.75, -11.50, -11.22, -10.84, -10.43,
    -13.07, -12.58, -12.16, -11.92, -11.72, -11.52, -11.32, -11.01, -10.63, -10.18,
    0.38, -2.40, -5.25, -8.19, -7.14, -9.14, -9.21, -9.78, -10.59, -11.06,
    -11.51, -12.25, -11.72, -12.32, -13.17, -12.01, -12.93, -13.53, -13.93, -15.81,
    -14.04, -15.19, -16.80, -15.19, -14.04, -16.11, -16.00, -17.38, -16.34, -17.15,
    -16.34, -18.14, -20.02, -19.33, -20.14, -19.22, -20.49, -21.75, -18.12, -15.36,
    -15.42, -17.22, -9.75, -11.74, -12.25, -12.89, -13.58, -14.15, -12.77, -12.77,
    -11.05, -10.93, -10.55, -11.05, -9.82, -10.70, -10.82, -15.24, -16.23, -14.50,
    -14.60, -13.50, -13.40, -19.45, -19.10, -18.64, -18.88, -18.41, -17.95, -17.60,
    -19.22, -20.26, -13.12, -13.70, -12.54, -11.97, -11.51, -15.65, -15.50, -20.60,
    -18.56, -18.20, -17.93, -17.66, -17.44, -17.23, -17.01, -16.76, -16.44, -16.04,
    -18.47, -18.05, -17.74, -17.42, -17.17, -16.92, -16.66, -16.37, -15.99, -15.53,
    -18.26, -17.88, -17.57, -17.27, -17.00, -16.79, -16.54, -16.20, -15.82, -15.32,
    -17.83, -17.38, -17.04, -16.70, -16.43, -16.16, -15.89, -15.57, -15.17, -14.67,
    -17.60, -17.20, -16.86, -16.54, -16.25, -16.02, -15.75, -15.39, -14.99, -14.45,
    -17.34, -16.90, -16.57, -16.24, -15.98, -15.71, -15.45, -15.14, -14.74, -14.26,
    -17.12, -16.72, -16.39, -16.09, -15.80, -15.58, -15.32, -14.96, -14.57, -14.04,
    -17.01, -16.55, -16.21, -15.86, -15.58, -15.31, -15.03, -14.71, -14.30, -13.79,
    -16.78, -16.37, -16.02, -15.70, -15.40, -15.17, -14.89, -14.53, -14.11, -13.56,
    -16.69, -16.23, -15.89, -15.54, -15.26, -14.99, -14.71, -14.39, -13.98, -13.47,
    -16.46, -16.05, -15.70, -15.38, -15.08, -14.85, -14.57, -14.21, -13.79, -13.24,
    -16.11, -15.65, -15.31, -14.96, -14.68, -14.41, -14.13, -13.81, -13.40, -12.89,
    -15.88, -15.47, -15.12, -14.80, -14.50, -14.27, -13.99, -13.63, -13.21, -12.66,
    -15.72, -15.28, -14.95, -14.62, -14.36, -14.09, -13.83, -13.52, -13.12, -12.64,
    -15.50, -15.10, -14.77, -14.47, -14.18, -13.96, -13.70, -13.34, -12.95, -12.42,
    -15.19, -14.73, -14.39, -14.04, -13.76, -13.49, -13.21, -12.89, -12.48, -11.97,
    -14.96, -14.55, -14.20, -13.88, -13.58, -13.35, -13.07, -12.71, -12.29, -11.74,
    -14.54, -14.13, -13.82, -13.51, -13.26, -13.02, -12.77, -12.48, -12.11, -11.66,
    -14.34, -13.97, -13.66, -13.37, -13.10, -12.89, -12.65, -12.32, -11.95, -11.45,
    -14.09, -13.68, -13.37, -13.06, -12.81, -12.57, -12.32, -12.03, -11.67, -11.21,
    -12.91, -12.58, -12.33, -12.08, -11.88, -11.68, -11.49, -11.25, -10.96, -10.59,
    -17.95, -17.63, -17.38, -17.17, -16.96, -16.75, -16.54, -16.29, -15.99, -15.70,
    -17.26, -16.93, -16.66, -16.43, -16.20, -15.98, -15.75, -15.48, -15.17, -14.85,
    -16.79, -16.46, -16.20, -15.98, -15.76, -15.54, -15.32, -15.05, -14.74, -14.44,
    -16.44, -16.09, -15.81, -15.58, -15.35, -15.12, -14.89, -14.62, -14.30, -13.97,
    -16.12, -15.77, -15.49, -15.26, -15.03, -14.80, -14.57, -14.30, -13.98, -13.65,
    -15.54, -15.19, -14.91, -14.68, -14.45, -14.22, -13.99, -13.72, -13.40, -13.07,
    -15.17, -14.84, -14.58, -14.36, -14.14, -13.92, -13.70, -13.43, -13.12, -12.82,
    -14.62, -14.27, -13.99, -13.76, -13.53, -13.30, -13.07, -12.80, -12.48, -12.15,
    -14.03, -13.72, -13.47, -13.26, -13.06, -12.85, -12.65, -12.40, -12.11, -11.82,
]

# identity (y = x) reference lines
diag_a = [0.0, 17.0]
diag_b = [-30.0, 5.0]

# tick values
xticks_a = [5, 10, 15]
yticks_a = [2.5, 5.0, 7.5, 10.0, 12.5, 15.0]
xticks_b = [-20, -10, 0]
yticks_b = [0, -5, -10, -15, -20, -25]

W = 1113
HREF = 565      # pixel frame used for placing elements
HFIG = 574      # rendered figure height (viewport is scaled to 565 tall)
TICKFONT = dict(family="DejaVu Sans", size=24, color="black")
LABFONT = dict(family="DejaVu Sans", size=29, color="black")
MS = 9


def py(ypix):
    """paper fraction for a vertical pixel position in the 565-px frame"""
    return (HREF - ypix) / HREF


fig = go.Figure()

# Panel (a)
fig.add_trace(go.Scatter(x=train_a_actual, y=train_a_pred, mode="markers",
                         name="Training data", legend="legend",
                         marker=dict(color="gray", opacity=0.3, size=MS, line=dict(width=0)),
                         xaxis="x", yaxis="y"))
fig.add_trace(go.Scatter(x=test_a_actual, y=test_a_pred, mode="markers",
                         name="Test data", legend="legend",
                         marker=dict(color="red", opacity=0.28, size=MS, line=dict(width=0)),
                         xaxis="x", yaxis="y"))
fig.add_trace(go.Scatter(x=diag_a, y=diag_a, mode="lines", showlegend=False,
                         line=dict(color="#8a8a8a", width=1.2), xaxis="x", yaxis="y"))

# Panel (b)
fig.add_trace(go.Scatter(x=train_b_actual, y=train_b_pred, mode="markers",
                         name="Training data", legend="legend2",
                         marker=dict(color="gray", opacity=0.3, size=MS, line=dict(width=0)),
                         xaxis="x2", yaxis="y2"))
fig.add_trace(go.Scatter(x=test_b_actual, y=test_b_pred, mode="markers",
                         name="Test data", legend="legend2",
                         marker=dict(color="blue", opacity=0.3, size=MS, line=dict(width=0)),
                         xaxis="x2", yaxis="y2"))
fig.add_trace(go.Scatter(x=diag_b, y=diag_b, mode="lines", showlegend=False,
                         line=dict(color="#8a8a8a", width=1.2), xaxis="x2", yaxis="y2"))

axis_common = dict(showline=True, linecolor="black", linewidth=1.5,
                   ticks="inside", ticklen=7, tickwidth=1.3, tickcolor="black",
                   tickfont=TICKFONT, showgrid=False, zeroline=False, tickmode="array")

fig.update_layout(
    width=W, height=HFIG,
    margin=dict(l=0, r=0, t=0, b=0),
    paper_bgcolor="white", plot_bgcolor="white",
    xaxis=dict(domain=[127.7 / W, 528 / W], range=[0.95, 15.87], anchor="y",
               mirror=True, tickvals=xticks_a, **axis_common),
    yaxis=dict(domain=[py(495.5), py(95)], range=[1.0, 15.89], anchor="x",
               mirror=True, tickvals=yticks_a, tickformat=".1f", **axis_common),
    xaxis2=dict(domain=[722.3 / W, 1.0], range=[-25.42, 1.71], anchor="y2",
                mirror=True, tickvals=xticks_b, **axis_common),
    yaxis2=dict(domain=[py(490), py(93.3)], range=[-25.32, 2.07], anchor="x2",
                mirror=False, tickvals=yticks_b, **axis_common),
    legend=dict(x=150.7 / W, y=py(110), xanchor="left", yanchor="top",
                font=dict(family="DejaVu Sans", size=25, color="black"),
                bgcolor="rgba(0,0,0,0)", borderwidth=0),
    legend2=dict(x=745 / W, y=py(109), xanchor="left", yanchor="top",
                 font=dict(family="DejaVu Sans", size=25, color="black"),
                 bgcolor="rgba(0,0,0,0)", borderwidth=0),
    showlegend=True,
)

ann = [
    dict(text="(a)", x=37 / W, y=py(36), font=dict(family="Liberation Sans", size=32, color="black")),
    dict(text="(b)", x=626 / W, y=py(39), font=dict(family="Liberation Sans", size=32, color="black")),
    dict(text='HOMO-LUMO gap  <span style="font-family:Liberation Serif;font-style:italic;font-size:34px">ϵ<sub>gap</sub></span>',
         x=319 / W, y=py(64), font=dict(family="Liberation Sans", size=31, color="black")),
    dict(text='Internal energy  <span style="font-family:Liberation Serif;font-style:italic;font-size:32px">U</span>',
         x=898 / W, y=py(62), font=dict(family="Liberation Sans", size=30, color="black")),
    dict(text="Acutual value (eV)", x=328 / W, y=py(551), font=LABFONT),
    dict(text="Predicted value (eV)", x=38 / W, y=py(297), textangle=-90, font=LABFONT),
    dict(text="Acutual value (10<sup>−16</sup> · J)", x=922 / W, y=py(549), font=LABFONT),
    dict(text="Predicted value (10<sup>−16</sup> · J)", x=638 / W, y=py(277), textangle=-90, font=LABFONT),
]
for a in ann:
    a.update(xref="paper", yref="paper", showarrow=False, xanchor="center", yanchor="middle")
fig.update_layout(annotations=ann)

page_fix = (
    "var gd=document.getElementById('{plot_id}');"
    "gd.style.overflow='hidden';"
    "document.body.style.margin='0px';"
    "document.body.style.overflow='hidden';"
    "document.documentElement.style.overflow='hidden';"
)
fig.write_html("out.html", config={"displayModeBar": False}, post_script=page_fix)
